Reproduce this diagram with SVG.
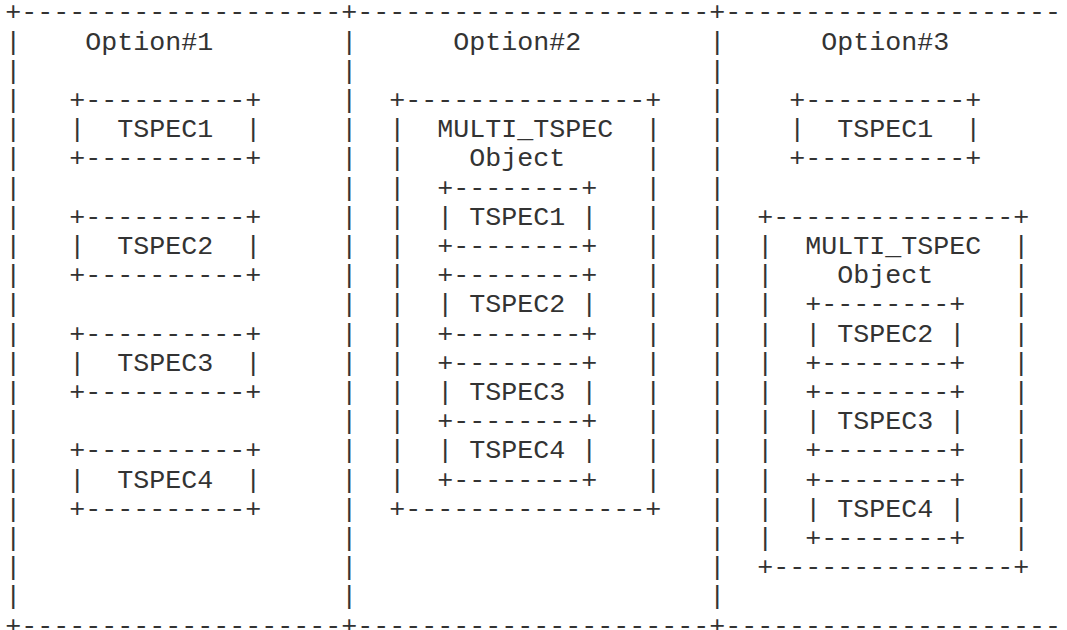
<svg xmlns="http://www.w3.org/2000/svg" width="1067" height="630" viewBox="0 0 1067 630" xml:space="preserve">
<style>
text{font-family:"Liberation Mono","DejaVu Sans Mono",monospace;font-size:26.67px;fill:#333;white-space:pre}
</style>
<rect width="1067" height="630" fill="#fff"/>
<g id="frame">
<text x="5.3" y="20.4">+--------------------+----------------------+---------------------</text>
<text x="5.3" y="49.6">|<tspan x="5.3" dy="29.2">|</tspan><tspan x="5.3" dy="29.2">|</tspan><tspan x="5.3" dy="29.2">|</tspan><tspan x="5.3" dy="29.2">|</tspan><tspan x="5.3" dy="29.2">|</tspan><tspan x="5.3" dy="29.2">|</tspan><tspan x="5.3" dy="29.2">|</tspan><tspan x="5.3" dy="29.2">|</tspan><tspan x="5.3" dy="29.2">|</tspan><tspan x="5.3" dy="29.2">|</tspan><tspan x="5.3" dy="29.2">|</tspan><tspan x="5.3" dy="29.2">|</tspan><tspan x="5.3" dy="29.2">|</tspan><tspan x="5.3" dy="29.2">|</tspan><tspan x="5.3" dy="29.2">|</tspan><tspan x="5.3" dy="29.2">|</tspan><tspan x="5.3" dy="29.2">|</tspan><tspan x="5.3" dy="29.2">|</tspan><tspan x="5.3" dy="29.2">|</tspan></text>
<text x="341.3" y="49.6">|<tspan x="341.3" dy="29.2">|</tspan><tspan x="341.3" dy="29.2">|</tspan><tspan x="341.3" dy="29.2">|</tspan><tspan x="341.3" dy="29.2">|</tspan><tspan x="341.3" dy="29.2">|</tspan><tspan x="341.3" dy="29.2">|</tspan><tspan x="341.3" dy="29.2">|</tspan><tspan x="341.3" dy="29.2">|</tspan><tspan x="341.3" dy="29.2">|</tspan><tspan x="341.3" dy="29.2">|</tspan><tspan x="341.3" dy="29.2">|</tspan><tspan x="341.3" dy="29.2">|</tspan><tspan x="341.3" dy="29.2">|</tspan><tspan x="341.3" dy="29.2">|</tspan><tspan x="341.3" dy="29.2">|</tspan><tspan x="341.3" dy="29.2">|</tspan><tspan x="341.3" dy="29.2">|</tspan><tspan x="341.3" dy="29.2">|</tspan><tspan x="341.3" dy="29.2">|</tspan></text>
<text x="709.3" y="49.6">|<tspan x="709.3" dy="29.2">|</tspan><tspan x="709.3" dy="29.2">|</tspan><tspan x="709.3" dy="29.2">|</tspan><tspan x="709.3" dy="29.2">|</tspan><tspan x="709.3" dy="29.2">|</tspan><tspan x="709.3" dy="29.2">|</tspan><tspan x="709.3" dy="29.2">|</tspan><tspan x="709.3" dy="29.2">|</tspan><tspan x="709.3" dy="29.2">|</tspan><tspan x="709.3" dy="29.2">|</tspan><tspan x="709.3" dy="29.2">|</tspan><tspan x="709.3" dy="29.2">|</tspan><tspan x="709.3" dy="29.2">|</tspan><tspan x="709.3" dy="29.2">|</tspan><tspan x="709.3" dy="29.2">|</tspan><tspan x="709.3" dy="29.2">|</tspan><tspan x="709.3" dy="29.2">|</tspan><tspan x="709.3" dy="29.2">|</tspan><tspan x="709.3" dy="29.2">|</tspan></text>
<text x="5.3" y="633.6">+--------------------+----------------------+---------------------</text>
</g>
<g id="option1">
<text x="85.3" y="49.6">Option#1</text>
<g id="o1-tspec1">
<text x="69.3" y="108.0">+----------+</text>
<text x="69.3" y="137.2">|  TSPEC1  |</text>
<text x="69.3" y="166.4">+----------+</text>
</g>
<g id="o1-tspec2">
<text x="69.3" y="224.8">+----------+</text>
<text x="69.3" y="254.0">|  TSPEC2  |</text>
<text x="69.3" y="283.2">+----------+</text>
</g>
<g id="o1-tspec3">
<text x="69.3" y="341.6">+----------+</text>
<text x="69.3" y="370.8">|  TSPEC3  |</text>
<text x="69.3" y="400.0">+----------+</text>
</g>
<g id="o1-tspec4">
<text x="69.3" y="458.4">+----------+</text>
<text x="69.3" y="487.6">|  TSPEC4  |</text>
<text x="69.3" y="516.8">+----------+</text>
</g>
</g>
<g id="option2">
<text x="453.3" y="49.6">Option#2</text>
<g id="o2-multi">
<text x="389.3" y="108.0">+---------------+</text>
<text x="389.3" y="137.2">|<tspan x="389.3" dy="29.2">|</tspan><tspan x="389.3" dy="29.2">|</tspan><tspan x="389.3" dy="29.2">|</tspan><tspan x="389.3" dy="29.2">|</tspan><tspan x="389.3" dy="29.2">|</tspan><tspan x="389.3" dy="29.2">|</tspan><tspan x="389.3" dy="29.2">|</tspan><tspan x="389.3" dy="29.2">|</tspan><tspan x="389.3" dy="29.2">|</tspan><tspan x="389.3" dy="29.2">|</tspan><tspan x="389.3" dy="29.2">|</tspan><tspan x="389.3" dy="29.2">|</tspan></text>
<text x="645.3" y="137.2">|<tspan x="645.3" dy="29.2">|</tspan><tspan x="645.3" dy="29.2">|</tspan><tspan x="645.3" dy="29.2">|</tspan><tspan x="645.3" dy="29.2">|</tspan><tspan x="645.3" dy="29.2">|</tspan><tspan x="645.3" dy="29.2">|</tspan><tspan x="645.3" dy="29.2">|</tspan><tspan x="645.3" dy="29.2">|</tspan><tspan x="645.3" dy="29.2">|</tspan><tspan x="645.3" dy="29.2">|</tspan><tspan x="645.3" dy="29.2">|</tspan><tspan x="645.3" dy="29.2">|</tspan></text>
<text x="437.3" y="137.2">MULTI_TSPEC</text>
<text x="469.3" y="166.4">Object</text>
<text x="389.3" y="516.8">+---------------+</text>
</g>
<g id="o2-tspec1">
<text x="437.3" y="195.6">+--------+</text>
<text x="437.3" y="224.8">| TSPEC1 |</text>
<text x="437.3" y="254.0">+--------+</text>
</g>
<g id="o2-tspec2">
<text x="437.3" y="283.2">+--------+</text>
<text x="437.3" y="312.4">| TSPEC2 |</text>
<text x="437.3" y="341.6">+--------+</text>
</g>
<g id="o2-tspec3">
<text x="437.3" y="370.8">+--------+</text>
<text x="437.3" y="400.0">| TSPEC3 |</text>
<text x="437.3" y="429.2">+--------+</text>
</g>
<g id="o2-tspec4">
<text x="437.3" y="458.4">| TSPEC4 |</text>
<text x="437.3" y="487.6">+--------+</text>
</g>
</g>
<g id="option3">
<text x="821.3" y="49.6">Option#3</text>
<g id="o3-tspec1">
<text x="789.3" y="108.0">+----------+</text>
<text x="789.3" y="137.2">|  TSPEC1  |</text>
<text x="789.3" y="166.4">+----------+</text>
</g>
<g id="o3-multi">
<text x="757.3" y="224.8">+---------------+</text>
<text x="757.3" y="254.0">|<tspan x="757.3" dy="29.2">|</tspan><tspan x="757.3" dy="29.2">|</tspan><tspan x="757.3" dy="29.2">|</tspan><tspan x="757.3" dy="29.2">|</tspan><tspan x="757.3" dy="29.2">|</tspan><tspan x="757.3" dy="29.2">|</tspan><tspan x="757.3" dy="29.2">|</tspan><tspan x="757.3" dy="29.2">|</tspan><tspan x="757.3" dy="29.2">|</tspan><tspan x="757.3" dy="29.2">|</tspan></text>
<text x="1013.3" y="254.0">|<tspan x="1013.3" dy="29.2">|</tspan><tspan x="1013.3" dy="29.2">|</tspan><tspan x="1013.3" dy="29.2">|</tspan><tspan x="1013.3" dy="29.2">|</tspan><tspan x="1013.3" dy="29.2">|</tspan><tspan x="1013.3" dy="29.2">|</tspan><tspan x="1013.3" dy="29.2">|</tspan><tspan x="1013.3" dy="29.2">|</tspan><tspan x="1013.3" dy="29.2">|</tspan><tspan x="1013.3" dy="29.2">|</tspan></text>
<text x="805.3" y="254.0">MULTI_TSPEC</text>
<text x="837.3" y="283.2">Object</text>
<text x="757.3" y="575.2">+---------------+</text>
</g>
<g id="o3-tspec2">
<text x="805.3" y="312.4">+--------+</text>
<text x="805.3" y="341.6">| TSPEC2 |</text>
<text x="805.3" y="370.8">+--------+</text>
</g>
<g id="o3-tspec3">
<text x="805.3" y="400.0">+--------+</text>
<text x="805.3" y="429.2">| TSPEC3 |</text>
<text x="805.3" y="458.4">+--------+</text>
</g>
<g id="o3-tspec4">
<text x="805.3" y="487.6">+--------+</text>
<text x="805.3" y="516.8">| TSPEC4 |</text>
<text x="805.3" y="546.0">+--------+</text>
</g>
</g>
</svg>
